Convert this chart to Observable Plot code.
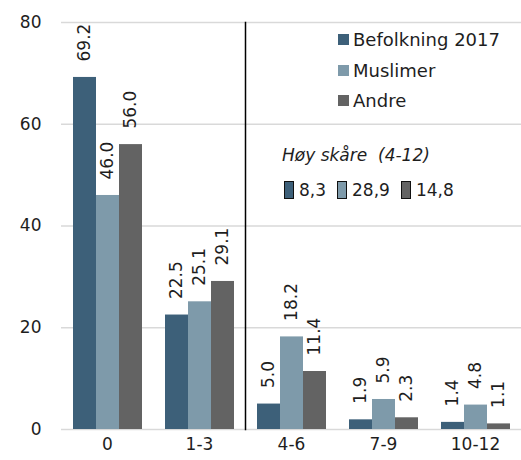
<!DOCTYPE html>
<html><head><meta charset="utf-8">
<script src="https://cdn.jsdelivr.net/npm/d3@7"></script>
<script src="https://cdn.jsdelivr.net/npm/@observablehq/plot@0.6"></script>
<style>
body{margin:0;background:#fff;font-family:"DejaVu Sans",sans-serif;color:#1e1e1e}
#wrap{position:relative;width:521px;height:460px}
.row{position:absolute;display:flex;align-items:center;white-space:pre;font-size:17px;height:22px}
.sw{width:11px;height:11px;margin-right:4px}
.hs{width:8px;height:16px;border:1.5px solid #111;margin-right:5px}
.hsv{margin-right:11px}
</style></head><body><div id="wrap"></div>
<script>
const categories = ["0","1-3","4-6","7-9","10-12"];
const series = ["Befolkning 2017","Muslimer","Andre"];
const colors = ["#3d6079","#7e9aaa","#636363"];
const befolkning = [69.2,22.5,5.0,1.9,1.4];
const muslimer = [46.0,25.1,18.2,5.9,4.8];
const andre = [56.0,29.1,11.4,2.3,1.1];
const highScoreLabel = "Høy skåre  (4-12)";
const highScore = ["8,3","28,9","14,8"];
const yTicks = [0,20,40,60,80];
const splitCategory = "4-6";

const valuesBySeries = [befolkning, muslimer, andre];
const data = categories.flatMap((c,i)=>series.map((s,j)=>({cat:c, series:s, value:valuesBySeries[j][i]})));

const plot = Plot.plot({
  width:521, height:460, marginLeft:60, marginRight:0, marginTop:22, marginBottom:31,
  style:{fontFamily:"DejaVu Sans", fontSize:"17px", color:"#1e1e1e", background:"#fff"},
  fx:{domain:categories, padding:0, label:null, tickSize:0, tickPadding:8, axis:"bottom"},
  x:{domain:series, paddingInner:0, paddingOuter:0.5, axis:null},
  y:{domain:[0,80], ticks:yTicks, label:null, tickSize:0, tickPadding:20},
  color:{domain:series, range:colors},
  marks:[
    Plot.gridY(yTicks,{stroke:"#d9d9d9", strokeOpacity:1, strokeWidth:1.5}),
    Plot.barY(data,{fx:"cat", x:"series", y:"value", fill:"series"}),
    Plot.text(data,{fx:"cat", x:"series", y:"value", text:d=>d.value.toFixed(1), rotate:-90, textAnchor:"start", dy:-16, fontSize:17, fill:"#1e1e1e"}),
    Plot.frame({anchor:"left", fx:[splitCategory], stroke:"#000", strokeWidth:1.5})
  ]
});
const wrap = document.getElementById("wrap");
wrap.appendChild(plot);

// legend overlay
const legTops = [28, 59, 89];
series.forEach((s,i)=>{
  const r = document.createElement("div");
  r.className="row"; r.style.left="338px"; r.style.top=legTops[i]+"px"; r.style.fontSize="18px";
  r.innerHTML = `<span class="sw" style="background:${colors[i]}"></span><span>${s}</span>`;
  wrap.appendChild(r);
});
const hl = document.createElement("div");
hl.className="row"; hl.style.left="282px"; hl.style.top="144px"; hl.style.fontStyle="italic"; hl.style.fontSize="17px";
hl.textContent = highScoreLabel;
wrap.appendChild(hl);
const hr = document.createElement("div");
hr.className="row"; hr.style.left="284px"; hr.style.top="179px";
hr.innerHTML = highScore.map((v,i)=>`<span class="hs" style="background:${colors[i]}"></span><span class="hsv">${v}</span>`).join("");
wrap.appendChild(hr);
</script>
</body></html>
